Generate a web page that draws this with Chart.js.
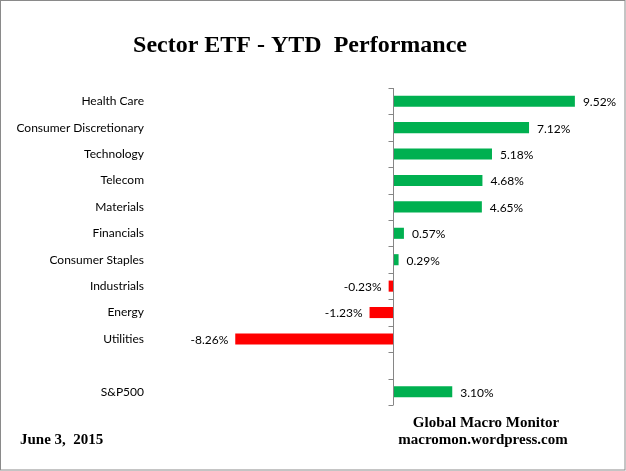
<!DOCTYPE html>
<html>
<head>
<meta charset="utf-8">
<script src="https://cdn.jsdelivr.net/npm/chart.js@4"></script>
<style>
  html, body { margin: 0; padding: 0; background: #fff; }
  #wrap { width: 626px; height: 471px; position: relative; }
</style>
</head>
<body>
<div id="wrap"><canvas id="etfChart"></canvas></div>
<script>
// sector names, blank slot, then the index
const sectors = [
  "Health Care", "Consumer Discretionary", "Technology", "Telecom", "Materials",
  "Financials", "Consumer Staples", "Industrials", "Energy", "Utilities", "", "S&P500"
];
const ytdPct = [9.52, 7.12, 5.18, 4.68, 4.65, 0.57, 0.29, -0.23, -1.23, -8.26, null, 3.10];

const titleText = "Sector ETF - YTD  Performance";
const dateText = "June 3,  2015";
const sourceLines = ["Global Macro Monitor", "macromon.wordpress.com"];

const GREEN = "#00B050";
const RED = "#FF0000";
const AXIS = "#868686";

// zero axis line, tick marks, value labels, title and footer
const decor = {
  id: "decor",
  afterDatasetsDraw(chart) {
    const c = chart.ctx;
    const xs = chart.scales.x;
    const ys = chart.scales.y;
    const area = chart.chartArea;
    const x0 = Math.round(xs.getPixelForValue(0)) + 0.5;

    c.save();
    c.strokeStyle = AXIS;
    c.lineWidth = 1;
    c.beginPath();
    c.moveTo(x0, area.top);
    c.lineTo(x0, area.bottom);
    const step = ys.getPixelForValue(1) - ys.getPixelForValue(0);
    for (let i = 0; i <= sectors.length; i++) {
      const y = Math.round(ys.getPixelForValue(i) - step / 2) + 0.5;
      c.moveTo(x0 - 5, y);
      c.lineTo(x0, y);
    }
    c.stroke();

    // value labels
    c.font = "12px Lato";
    c.fillStyle = "#000";
    c.textBaseline = "middle";
    const meta = chart.getDatasetMeta(0);
    meta.data.forEach((bar, i) => {
      const v = ytdPct[i];
      if (v === null) return;
      const txt = v.toFixed(2) + "%";
      if (v >= 0) {
        c.textAlign = "left";
        c.fillText(txt, bar.x + 8, bar.y + 1);
      } else {
        c.textAlign = "right";
        c.fillText(txt, bar.x - 7, bar.y + 1);
      }
    });

    // title
    c.font = "bold 24px 'Liberation Serif'";
    c.textAlign = "center";
    c.fillText(titleText, 300, 46);

    // footer
    c.font = "bold 15px 'Liberation Serif'";
    c.textAlign = "left";
    c.fillText(dateText, 20, 440);
    c.textAlign = "center";
    c.fillText(sourceLines[0], 486, 423);
    c.fillText(sourceLines[1], 483, 440);

    // frame
    c.strokeStyle = "#8a8a8a";
    c.strokeRect(0.5, 0.5, chart.width - 1.5, chart.height - 1.5);
    c.restore();
  }
};

new Chart(document.getElementById("etfChart"), {
  type: "bar",
  data: {
    labels: sectors,
    datasets: [
      {
        data: ytdPct,
        backgroundColor: ytdPct.map((v) => (v < 0 ? RED : GREEN)),
        barPercentage: 0.42,
        categoryPercentage: 1,
      },
    ],
  },
  plugins: [decor],
  options: {
    indexAxis: "y",
    responsive: true,
    maintainAspectRatio: false,
    animation: false,
    layout: {
      padding: { top: 88, bottom: 66, left: 0, right: 11 },
    },
    plugins: {
      legend: { display: false },
      tooltip: { enabled: false },
      title: { display: false },
    },
    scales: {
      x: {
        display: false,
        min: -12.2,
        max: 11.62,
      },
      y: {
        afterFit(scale) {
          scale.width = 160;
        },
        border: { display: false },
        grid: { display: false },
        ticks: {
          color: "#000",
          padding: 8,
          font: { family: "Lato", size: 12 },
        },
      },
    },
  },
});
</script>
</body>
</html>
